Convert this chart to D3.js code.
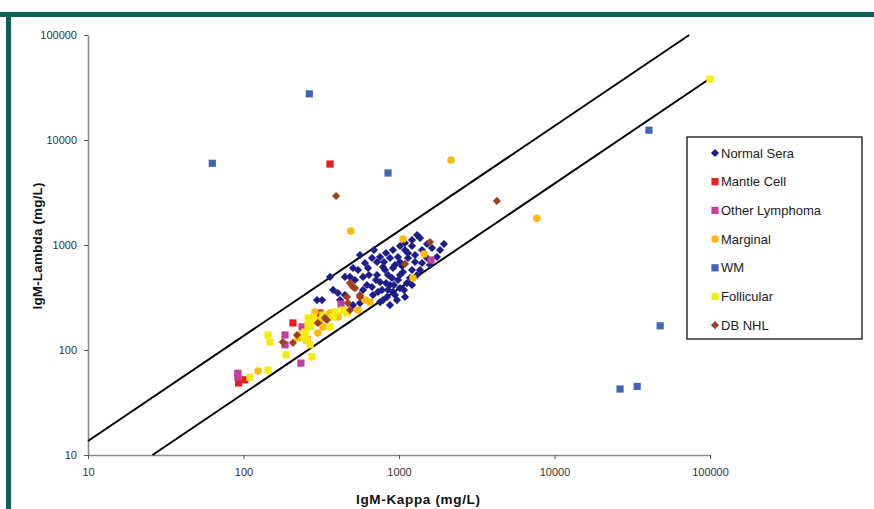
<!DOCTYPE html>
<html>
<head>
<meta charset="utf-8">
<script src="https://cdn.jsdelivr.net/npm/d3@7"></script>
<style>
body { margin: 0; background: #fff; }
svg { display: block; font-family: Arial, "Liberation Sans", sans-serif; }
</style>
</head>
<body>
<svg id="chart" width="874" height="509"></svg>
<script>

// [kappa, lambda] in mg/L
var normalSera = [
	[1306,1245],[1212,1116],[1365,1166],[1093,1045],[1015,978],[1212,978],[915,896],[1093,896],
	[1406,896],[1630,936],[1836,896],[1945,1022],[1754,769],[561,803],[755,769],[875,752],
	[985,769],[1142,752],[1268,689],[722,689],[604,674],[1406,674],[1582,645],[506,604],
	[632,604],[789,617],[915,604],[1061,553],[1212,578],[1306,518],[449,496],[587,496],
	[722,518],[850,518],[755,444],[875,416],[985,464],[1125,434],[670,398],[778,373],
	[915,357],[680,334],[838,320],[755,286],[506,268],[360,496],[484,496],[377,373],
	[320,299],[405,349],[449,334],[561,280],[297,299],[418,299],[942,645],[1015,689],
	[813,578],[902,485],[1015,389],[942,334],[825,434],[711,464],[622,416],[1177,485],
	[1365,578],[1514,752],[1015,518],[789,299],[875,268],[733,357],[641,518],[545,578],
	[587,373],[521,464],[1514,1022],[825,839],[690,896],[1045,631],[1142,839],[1268,803],
	[670,752],[801,689],[928,416],[1077,373],[1212,416],[850,373],[970,299],[1093,320]
];
var mantleCell = [[360,5900],[310,225],[208,181],[256,125],[93,48.5],[102,52]];
var otherLymphoma = [[1606,719],[424,274],[238,166],[185,139],[185,112],[234,75],[92,60],[92,55]];
var marginal = [
	[490,1360],[2160,6460],[7700,1800],[1061,1140],[1449,821],[1230,485],[651,286],[604,299],
	[545,240],[405,206],[310,193],[360,225],[288,230],[324,166],[301,145],[231,139],[224,130],[124,63]
];
var wm = [[63,6000],[265,27500],[850,4850],[40500,12400],[47800,170],[26400,42.5],[34000,45]];
var follicular = [
	[100000,38000],[463,225],[280,206],[268,193],[377,206],[268,166],[297,185],[249,148],
	[144,139],[148,119],[256,124],[268,112],[188,90],[276,86],[144,64.5],[110,55],[436,240],
	[388,230],[324,215],[260,173],[360,166],[238,139],[260,202],[249,130]
];
var dbNHL = [
	[394,2930],[4260,2630],[1582,1068],[1093,660],[506,398],[463,320],[561,320],[484,434],
	[521,389],[561,334],[484,240],[470,280],[344,193],[301,181],[334,202],[221,139],[179,119],[208,117]
];

var seriesNames = ["Normal Sera", "Mantle Cell", "Other Lymphoma", "Marginal", "WM", "Follicular", "DB NHL"];
var seriesData = [normalSera, mantleCell, otherLymphoma, marginal, wm, follicular, dbNHL];
var seriesColors = ["#1e1e8a", "#e8201c", "#c0409c", "#ffb80c", "#4464b8", "#f4ec10", "#a0401c"];
var seriesShapes = ["diamond", "square", "square", "circle", "square", "square", "diamond"];

// the two ratio lines, as end points [kappa, lambda]
var upperLine = [[10,13.6],[73500,100000]];
var lowerLine = [[26,10],[100000,38500]];

var tickValues = [10, 100, 1000, 10000, 100000];


var svg = d3.select("#chart");

// frame
svg.append("rect").attr("x", 0).attr("y", 12).attr("width", 874).attr("height", 5).attr("fill", "#0e6155");
svg.append("rect").attr("x", 6).attr("y", 12).attr("width", 5).attr("height", 497).attr("fill", "#0e6155");

var x = d3.scaleLog().domain([10, 100000]).range([88, 710]);
var y = d3.scaleLog().domain([10, 100000]).range([455, 35]);

var yAxis = svg.append("g")
	.attr("transform", "translate(88,0)")
	.call(d3.axisLeft(y).tickValues(tickValues).tickFormat(d3.format("d")).tickSizeOuter(0).tickSizeInner(4).tickPadding(7));

var xAxis = svg.append("g")
	.attr("transform", "translate(0,455)")
	.call(d3.axisBottom(x).tickValues(tickValues).tickFormat(d3.format("d")).tickSizeOuter(0).tickSizeInner(4).tickPadding(9));

[xAxis, yAxis].forEach(function(a)
{
	a.select(".domain").attr("stroke", "#8a8a8a").attr("stroke-width", 1.6);
	a.selectAll(".tick line").attr("stroke", "#555");
	a.selectAll(".tick text").attr("fill", "#333").style("font-size", "11px").style("font-family", "Arial, 'Liberation Sans', sans-serif");
});

// ratio lines
var line = d3.line()
	.x(function(d) { return x(d[0]); })
	.y(function(d) { return y(d[1]); });

svg.selectAll(".ratio")
	.data([upperLine, lowerLine])
	.enter()
	.append("path")
	.classed("ratio", true)
	.attr("d", line)
	.attr("fill", "none")
	.attr("stroke", "#000")
	.attr("stroke-width", 2);

function drawMarker(sel, shape, color, cx, cy)
{
	if(shape == "square")
	{
		sel.append("rect").attr("x", cx - 3.6).attr("y", cy - 3.6).attr("width", 7.2).attr("height", 7.2).attr("fill", color);
	}
	else if(shape == "circle")
	{
		sel.append("circle").attr("cx", cx).attr("cy", cy).attr("r", 3.8).attr("fill", color);
	}
	else
	{
		sel.append("rect").attr("x", -2.9).attr("y", -2.9).attr("width", 5.8).attr("height", 5.8)
			.attr("transform", "translate(" + cx + "," + cy + ") rotate(45)").attr("fill", color);
	}
}

// points
seriesData.forEach(function(data, i)
{
	var g = svg.append("g").attr("class", "series");
	data.forEach(function(d)
	{
		drawMarker(g, seriesShapes[i], seriesColors[i], x(d[0]), y(d[1]));
	});
});

// legend
var legend = svg.append("g");
legend.append("rect")
	.attr("x", 687).attr("y", 137).attr("width", 175).attr("height", 202)
	.attr("fill", "#fff").attr("stroke", "#111").attr("stroke-width", 1.3);

seriesNames.forEach(function(name, i)
{
	var cy = 153 + i * 28.7;
	drawMarker(legend, seriesShapes[i], seriesColors[i], 715, cy);
	legend.append("text")
		.attr("x", 721).attr("y", cy + 4.5)
		.attr("fill", "#222")
		.style("font-size", "13px")
		.text(name);
});

// axis titles
svg.append("text")
	.attr("x", 418).attr("y", 504)
	.attr("text-anchor", "middle")
	.attr("fill", "#111")
	.style("font-size", "13.5px").style("font-weight", "bold")
	.attr("textLength", 124)
	.text("IgM-Kappa (mg/L)");

svg.append("text")
	.attr("transform", "translate(42,246) rotate(-90)")
	.attr("text-anchor", "middle")
	.attr("fill", "#111")
	.style("font-size", "13.5px").style("font-weight", "bold")
	.attr("textLength", 127)
	.text("IgM-Lambda (mg/L)");

</script>
</body>
</html>
